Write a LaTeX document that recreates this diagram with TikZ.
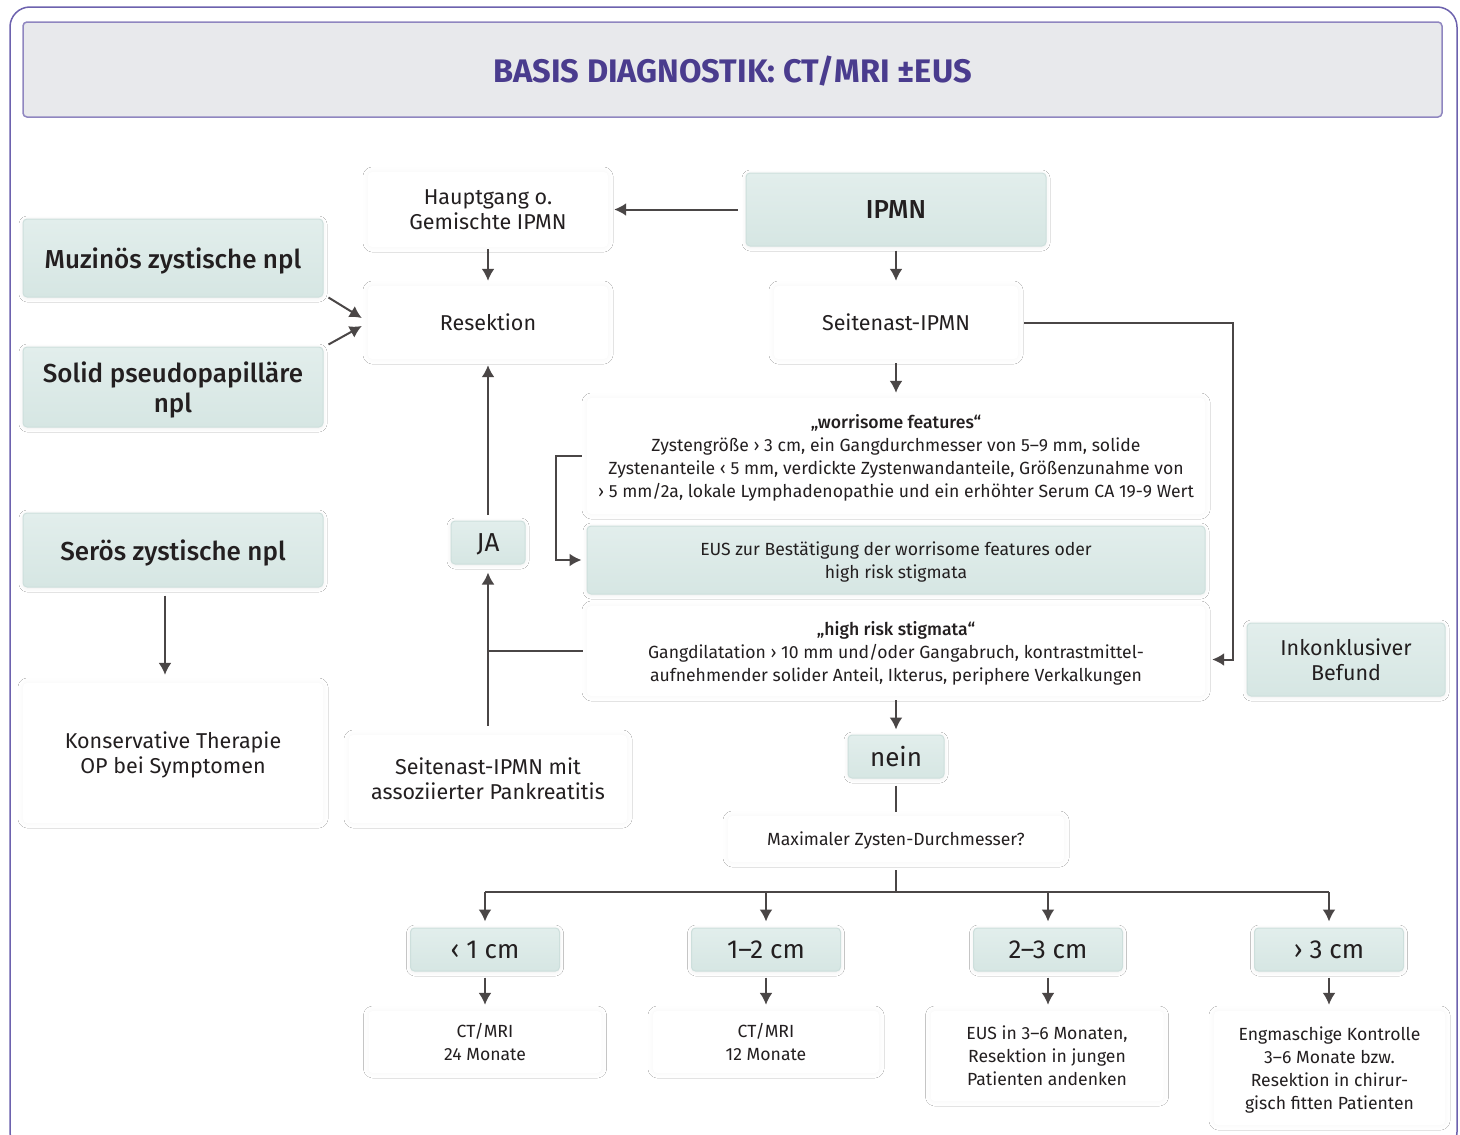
\documentclass[tikz,border=0pt]{standalone}
\usepackage{fontspec}
\setmainfont{Fira Sans}
\newfontfamily\medfont{Fira Sans Medium}
\usetikzlibrary{arrows.meta,shadows.blur,calc}
\definecolor{tealtop}{HTML}{E2EEEC}
\definecolor{tealbot}{HTML}{D6E6E3}
\definecolor{tealedge}{HTML}{CDDFDC}
\definecolor{arrowc}{HTML}{4A4646}
\definecolor{txt}{HTML}{231F20}
\definecolor{purpletxt}{HTML}{4A3C8E}
\definecolor{frame}{HTML}{6D62AE}
\definecolor{titleedge}{HTML}{8F86C0}
\definecolor{titlefill}{HTML}{E8E9EC}
\newcommand\myBigF{\medfont\fontsize{26}{30}\selectfont}
\newcommand\myBoxF{\fontsize{26}{30}\selectfont}
\newcommand\myMidF{\fontsize{21.5}{25}\selectfont}
\newcommand\mySmallF{\fontsize{17.6}{23}\selectfont}
\newcommand\mySmallB{\medfont\fontsize{17.6}{23}\selectfont}
\begin{document}
\begin{tikzpicture}[x=1pt,y=-1pt,
  box/.style={rectangle, inner sep=0pt, align=center, text=txt, rounded corners=4pt, text depth=0pt},
  tealbox/.style={box, top color=tealtop, bottom color=tealbot, draw=tealedge, line width=1pt,
    blur shadow={shadow xshift=0pt, shadow yshift=-1pt, shadow blur radius=4pt, shadow opacity=8}},
  whitebox/.style={box, fill=white,
    blur shadow={shadow xshift=0pt, shadow yshift=0pt, shadow blur radius=5pt, shadow opacity=4}},
  arr/.style={draw=arrowc, line width=2pt, -{Latex[length=12pt,width=13pt]}},
  plain/.style={draw=arrowc, line width=2pt},
]
\useasboundingbox (0,0) rectangle (1460,1135);
\fill[white] (0,0) rectangle (1460,1135);
\draw[frame, line width=1.5pt, rounded corners=20pt] (10,7) rectangle (1457,1152);

\node[box, fill=titlefill, draw=titleedge, line width=1.5pt, minimum width=1419, minimum height=95,
  text=purpletxt, font=\bfseries\fontsize{32.6}{40}\selectfont] (title) at (732.5,69.5) {BASIS DIAGNOSTIK: CT/MRI ±EUS};

% left column
\node[tealbox, minimum width=300, minimum height=78, font=\myBigF] (muz) at (173,258) {Muzinös zystische npl};
\node[tealbox, minimum width=300, minimum height=80, font=\myBigF] (solid) at (173,387) {Solid pseudopapilläre\\npl};
\node[tealbox, minimum width=300, minimum height=74, font=\myBigF] (seros) at (173,550) {Serös zystische npl};
\node[whitebox, minimum width=300, minimum height=140, font=\myMidF] (kons) at (173,753) {Konservative Therapie\\OP bei Symptomen};

% middle column
\node[whitebox, minimum width=240, minimum height=75, font=\myMidF] (haupt) at (488,209.5) {Hauptgang o.\\Gemischte IPMN};
\node[whitebox, minimum width=240, minimum height=73, font=\myMidF] (resek) at (488,322.5) {Resektion};
\node[tealbox, minimum width=74, minimum height=43, font=\myBoxF] (ja) at (488,542.5) {JA};
\node[whitebox, minimum width=278, minimum height=88, font=\myMidF] (seitmit) at (488,779) {Seitenast-IPMN mit\\assoziierter Pankreatitis};

% right column
\node[tealbox, minimum width=300, minimum height=73, font=\myBigF] (ipmn) at (896,209.5) {IPMN};
\node[whitebox, minimum width=244, minimum height=73, font=\myMidF] (seit) at (896,322.5) {Seitenast-IPMN};
\node[whitebox, minimum width=618, minimum height=116, font=\mySmallF] (worr) at (896,456)
  {{\mySmallB „worrisome features“}\\Zystengröße › 3 cm, ein Gangdurchmesser von 5–9 mm, solide\\Zystenanteile ‹ 5 mm, verdickte Zystenwandanteile, Größenzunahme von\\› 5 mm/2a, lokale Lymphadenopathie und ein erhöhter Serum CA 19-9 Wert};
\node[tealbox, minimum width=618, minimum height=68, font=\mySmallF] (eus) at (896,560)
  {EUS zur Bestätigung der worrisome features oder\\high risk stigmata};
\node[whitebox, minimum width=618, minimum height=90, font=\mySmallF] (high) at (896,651)
  {{\mySmallB „high risk stigmata“}\\Gangdilatation › 10 mm und/oder Gangabruch, kontrastmittel-\\aufnehmender solider Anteil, Ikterus, periphere Verkalkungen};
\node[tealbox, minimum width=198, minimum height=73, font=\myMidF] (inkon) at (1346,659.5) {Inkonklusiver\\Befund};
\node[tealbox, minimum width=96, minimum height=43, font=\myBoxF] (nein) at (896,756.5) {nein};
\node[whitebox, minimum width=336, minimum height=46, font=\mySmallF] (maxz) at (896,839) {Maximaler Zysten-Durchmesser?};

% size boxes
\node[tealbox, minimum width=149, minimum height=43, font=\myBoxF] (s1) at (485,949.5) {‹ 1 cm};
\node[tealbox, minimum width=149, minimum height=43, font=\myBoxF] (s2) at (766,949.5) {1–2 cm};
\node[tealbox, minimum width=149, minimum height=43, font=\myBoxF] (s3) at (1048,949.5) {2–3 cm};
\node[tealbox, minimum width=149, minimum height=43, font=\myBoxF] (s4) at (1329,949.5) {› 3 cm};

\node[whitebox, minimum width=233, minimum height=62, font=\mySmallF] (b1) at (485,1042) {CT/MRI\\24 Monate};
\node[whitebox, minimum width=226, minimum height=62, font=\mySmallF] (b2) at (766,1042) {CT/MRI\\12 Monate};
\node[whitebox, minimum width=233, minimum height=90, font=\mySmallF] (b3) at (1047,1056) {EUS in 3–6 Monaten,\\Resektion in jungen\\Patienten andenken};
\node[whitebox, minimum width=231, minimum height=114, font=\mySmallF] (b4) at (1329.5,1068) {Engmaschige Kontrolle\\3–6 Monate bzw.\\Resektion in chirur-\\gisch fitten Patienten};

% connectors
\draw[arr, shorten <=8pt, shorten >=6pt] (ipmn.west) -- (haupt.east);
\draw[arr, shorten <=2pt, shorten >=5pt] (haupt.south) -- (resek.north);
\draw[arr, shorten <=4pt, shorten >=5pt] (ipmn.south) -- (seit.north);
\draw[arr, shorten <=4pt, shorten >=5pt] (seit.south) -- (worr.north);
\draw[arr] ([xshift=5pt]muz.south east) -- ([xshift=-6pt,yshift=4.5pt]resek.west);
\draw[arr] ([xshift=5pt,yshift=2pt]solid.north east) -- ([xshift=-6pt,yshift=-3.5pt]resek.west);
\draw[arr, shorten >=8pt, shorten <=8pt] ([xshift=-8pt]seros.south) -- ([xshift=-8pt]kons.north);

\coordinate (rt) at (1233,322.5);
\draw[arr] ([xshift=6pt]seit.east) -- (seit.east -| rt) -- (rt |- inkon.west) -- ([xshift=7pt]high.east |- inkon.west);

\draw[arr] ([xshift=-5pt]worr.west) -- ++(-26,0) |- ([xshift=-5pt]eus.west);

\draw[arr, shorten <=6pt, shorten >=6pt] (ja.north) -- (resek.south);
\draw[arr, shorten <=9pt, shorten >=8pt] (seitmit.north) -- (ja.south);
\draw[plain] ([xshift=-4pt]high.west) -- (high.west -| ja.south);

\draw[arr, shorten <=4pt, shorten >=5pt] (high.south) -- (nein.north);
\draw[plain, shorten <=7pt, shorten >=4pt] (nein.south) -- (maxz.north);
\coordinate (hb) at (896,892);
\draw[plain, shorten <=8pt] (maxz.south) -- (hb);
\draw[plain] (s1.north |- hb) -- (s4.north |- hb);
\foreach \s in {s1,s2,s3,s4} {
  \draw[arr, shorten >=6pt] (\s.north |- hb) -- (\s.north);
}
\draw[arr, shorten <=6pt, shorten >=6pt] (s1.south) -- (b1.north);
\draw[arr, shorten <=6pt, shorten >=6pt] (s2.south) -- (b2.north);
\draw[arr, shorten <=6pt, shorten >=6pt] (s3.south) -- (b3.north -| s3.south);
\draw[arr, shorten <=6pt, shorten >=6pt] (s4.south) -- (b4.north -| s4.south);
\end{tikzpicture}
\end{document}
